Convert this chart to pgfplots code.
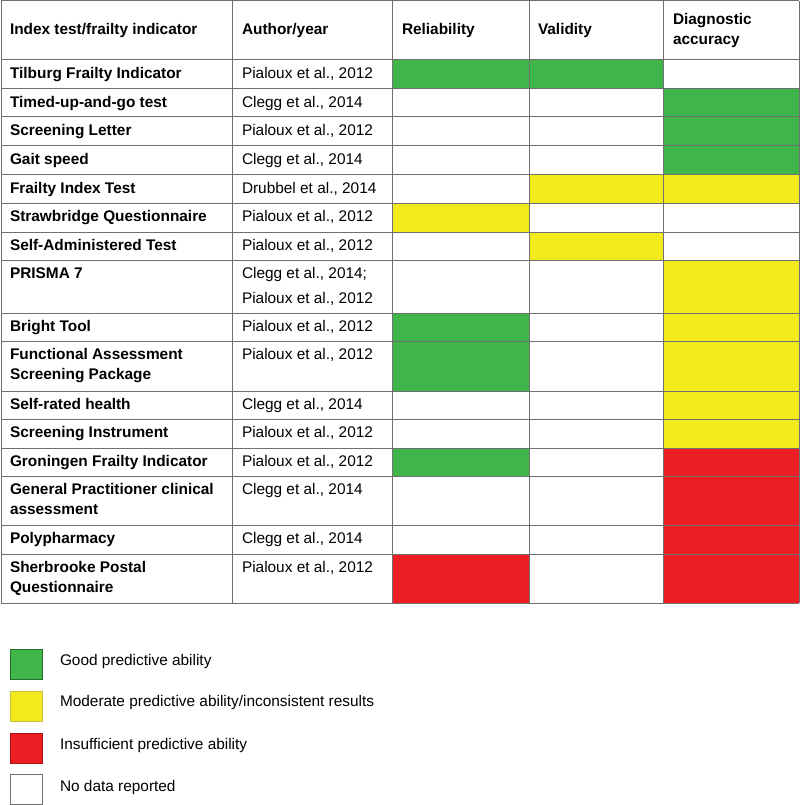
\documentclass[border=0pt]{standalone}
\usepackage{fontspec}
\setmainfont{Liberation Sans}
\usepackage{pgfplots}
\pgfplotsset{compat=1.18}
\definecolor{cgreen}{RGB}{64,181,74}
\definecolor{cyellow}{RGB}{243,234,30}
\definecolor{cred}{RGB}{237,29,36}
\definecolor{cline}{RGB}{112,112,112}
\tikzset{t/.style={anchor=base west, inner sep=0pt, outer sep=0pt, font=\fontsize{15.4bp}{19bp}\selectfont}}
\newcommand\cell[5]{\addplot[fill=#5, draw=none, forget plot] coordinates {(#1,#3) (#2,#3) (#2,#4) (#1,#4)};}
\newcommand\lbox[4]{\addplot[fill=#3, draw=#4, line width=1bp, forget plot] coordinates {(10,#1) (42,#1) (42,#2) (10,#2)} -- cycle;}
\begin{document}
\begin{tikzpicture}
\begin{axis}[
  width=800bp, height=805bp, scale only axis,
  xmin=0, xmax=800, ymin=0, ymax=805, y dir=reverse,
  hide axis, clip=false,
]
\path (axis cs:0,0) (axis cs:800,805);
% coloured cells: columns Reliability [392,529], Validity [529,663], Diagnostic [663,799]
\cell{392}{529}{60}{89}{cgreen}
\cell{529}{663}{60}{89}{cgreen}
\cell{663}{799}{89}{117}{cgreen}
\cell{663}{799}{117}{146}{cgreen}
\cell{663}{799}{146}{175}{cgreen}
\cell{529}{663}{175}{203}{cyellow}
\cell{663}{799}{175}{203}{cyellow}
\cell{392}{529}{203}{232}{cyellow}
\cell{529}{663}{232}{260}{cyellow}
\cell{663}{799}{260}{313}{cyellow}
\cell{392}{529}{313}{341}{cgreen}
\cell{663}{799}{313}{341}{cyellow}
\cell{392}{529}{341}{391}{cgreen}
\cell{663}{799}{341}{391}{cyellow}
\cell{663}{799}{391}{419}{cyellow}
\cell{663}{799}{419}{448}{cyellow}
\cell{392}{529}{448}{476}{cgreen}
\cell{663}{799}{448}{476}{cred}
\cell{663}{799}{476}{525}{cred}
\cell{663}{799}{525}{554}{cred}
\cell{392}{529}{554}{603}{cred}
\cell{663}{799}{554}{603}{cred}
% grid lines
\pgfplotsinvokeforeach{1,60,89,117,146,175,203,232,260,313,341,391,419,448,476,525,554,603}{
  \addplot[cline, line width=1bp, forget plot] coordinates {(1,#1) (799,#1)};
}
\pgfplotsinvokeforeach{1,232,392,529,663,799}{
  \addplot[cline, line width=1bp, forget plot] coordinates {(#1,1) (#1,603)};
}
% header
\node[t] at (axis cs:10,34.5) {\bfseries Index test/frailty indicator};
\node[t] at (axis cs:242,34.5) {\bfseries Author/year};
\node[t] at (axis cs:402,34.5) {\bfseries Reliability};
\node[t] at (axis cs:538,34.5) {\bfseries Validity};
\node[t] at (axis cs:673,25) {\bfseries Diagnostic};
\node[t] at (axis cs:673,45) {\bfseries accuracy};
% rows
\node[t] at (axis cs:10,78.5) {\bfseries Tilburg Frailty Indicator};
\node[t] at (axis cs:242,78.5) {Pialoux et al., 2012};
\node[t] at (axis cs:10,107.5) {\bfseries Timed-up-and-go test};
\node[t] at (axis cs:242,107.5) {Clegg et al., 2014};
\node[t] at (axis cs:10,135.5) {\bfseries Screening Letter};
\node[t] at (axis cs:242,135.5) {Pialoux et al., 2012};
\node[t] at (axis cs:10,164.5) {\bfseries Gait speed};
\node[t] at (axis cs:242,164.5) {Clegg et al., 2014};
\node[t] at (axis cs:10,193.5) {\bfseries Frailty Index Test};
\node[t] at (axis cs:242,193.5) {Drubbel et al., 2014};
\node[t] at (axis cs:10,221.5) {\bfseries Strawbridge Questionnaire};
\node[t] at (axis cs:242,221.5) {Pialoux et al., 2012};
\node[t] at (axis cs:10,250.5) {\bfseries Self-Administered Test};
\node[t] at (axis cs:242,250.5) {Pialoux et al., 2012};
\node[t] at (axis cs:10,278.5) {\bfseries PRISMA 7};
\node[t] at (axis cs:242,278.5) {Clegg et al., 2014;};
\node[t] at (axis cs:242,303.5) {Pialoux et al., 2012};
\node[t] at (axis cs:10,331.5) {\bfseries Bright Tool};
\node[t] at (axis cs:242,331.5) {Pialoux et al., 2012};
\node[t] at (axis cs:10,359.5) {\bfseries Functional Assessment};
\node[t] at (axis cs:10,379.5) {\bfseries Screening Package};
\node[t] at (axis cs:242,359.5) {Pialoux et al., 2012};
\node[t] at (axis cs:10,409.5) {\bfseries Self-rated health};
\node[t] at (axis cs:242,409.5) {Clegg et al., 2014};
\node[t] at (axis cs:10,437.5) {\bfseries Screening Instrument};
\node[t] at (axis cs:242,437.5) {Pialoux et al., 2012};
\node[t] at (axis cs:10,466.5) {\bfseries Groningen Frailty Indicator};
\node[t] at (axis cs:242,466.5) {Pialoux et al., 2012};
\node[t] at (axis cs:10,494.5) {\bfseries General Practitioner clinical};
\node[t] at (axis cs:10,514.5) {\bfseries assessment};
\node[t] at (axis cs:242,494.5) {Clegg et al., 2014};
\node[t] at (axis cs:10,543.5) {\bfseries Polypharmacy};
\node[t] at (axis cs:242,543.5) {Clegg et al., 2014};
\node[t] at (axis cs:10,572.5) {\bfseries Sherbrooke Postal};
\node[t] at (axis cs:10,592.5) {\bfseries Questionnaire};
\node[t] at (axis cs:242,572.5) {Pialoux et al., 2012};
% legend
\lbox{649}{679}{cgreen}{cgreen!60!black}
\lbox{691}{721}{cyellow}{cyellow!60!gray}
\lbox{733}{763}{cred}{cred!70!black}
\lbox{774}{804}{white}{cline}
\node[t] at (axis cs:60,665) {Good predictive ability};
\node[t] at (axis cs:60,706.5) {Moderate predictive ability/inconsistent results};
\node[t] at (axis cs:60,749) {Insufficient predictive ability};
\node[t] at (axis cs:60,791) {No data reported};
\end{axis}
\end{tikzpicture}
\end{document}
